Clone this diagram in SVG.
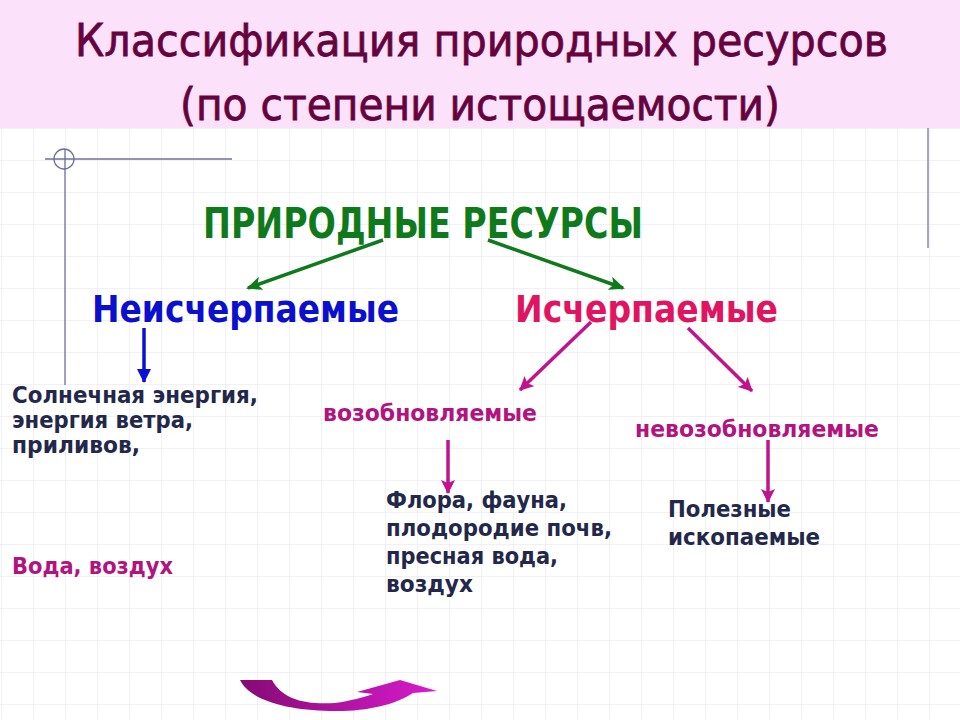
<svg xmlns="http://www.w3.org/2000/svg" width="960" height="720" viewBox="0 0 960 720">
  <defs>
    <pattern id="grid" x="1" y="0" width="32" height="32" patternUnits="userSpaceOnUse">
      <path d="M0 0 H32 M0 0 V32" fill="none" stroke="#e4e4ec" stroke-width="1"/>
    </pattern>
    <linearGradient id="curveGrad" x1="0" y1="0" x2="1" y2="0">
      <stop offset="0" stop-color="#850a74"/>
      <stop offset="1" stop-color="#d81ccc"/>
    </linearGradient>
    <marker id="ahGreen" markerUnits="userSpaceOnUse" markerWidth="16" markerHeight="14" refX="14" refY="7" orient="auto">
      <path d="M0 0 L16 7 L0 14 L4 7 Z" fill="#0f7a1c"/>
    </marker>
    <marker id="ahBlue" markerUnits="userSpaceOnUse" markerWidth="14" markerHeight="14" refX="13" refY="7" orient="auto">
      <path d="M0 0 L14 7 L0 14 Z" fill="#0c10d0"/>
    </marker>
    <marker id="ahPink" markerUnits="userSpaceOnUse" markerWidth="14" markerHeight="14" refX="13" refY="7" orient="auto">
      <path d="M0 0 L14 7 L0 14 L3 7 Z" fill="#c0148e"/>
    </marker>
  </defs>
  <style>
    .title { font-family: "DejaVu Sans", "Liberation Sans", sans-serif; font-size: 44px; fill: #66033e; stroke: #66033e; stroke-width: 0.8; }
    .b { font-family: "DejaVu Sans", "Liberation Sans", sans-serif; font-weight: bold; }
    .root { font-size: 42px; fill: #0f7a1c; }
    .lvl1 { font-size: 37px; }
    .blue { fill: #0c10cc; }
    .red { fill: #e01460; }
    .lvl2 { font-size: 23px; fill: #b2137f; }
    .dark { font-size: 23px; fill: #23284a; }
    .conn { fill: none; stroke-width: 3.5; }
    .deco { fill: none; stroke: #6c7098; stroke-width: 1.3; }
  </style>

  <!-- background -->
  <rect x="0" y="0" width="960" height="720" fill="#ffffff"/>
  <rect x="0" y="128" width="960" height="592" fill="url(#grid)"/>
  <rect x="0" y="0" width="960" height="128" fill="#fbe1fa"/>

  <!-- decorative lines -->
  <g id="decor">
    <line class="deco" x1="45" y1="159" x2="232" y2="159"/>
    <circle class="deco" cx="64" cy="159" r="10"/>
    <line class="deco" x1="65" y1="149" x2="65" y2="385"/>
    <line x1="928" y1="128" x2="928" y2="248" stroke="#8a8aa4" stroke-width="1.5"/>
  </g>

  <!-- title -->
  <g id="title">
    <text class="title" x="75" y="56" textLength="813" lengthAdjust="spacingAndGlyphs">Классификация природных ресурсов</text>
    <text class="title" x="180" y="120" textLength="600" lengthAdjust="spacingAndGlyphs">(по степени истощаемости)</text>
  </g>

  <!-- connectors -->
  <g id="connectors">
    <line class="conn" stroke="#0f7a1c" x1="383" y1="240" x2="248" y2="288" marker-end="url(#ahGreen)"/>
    <line class="conn" stroke="#0f7a1c" x1="488" y1="240" x2="623" y2="288" marker-end="url(#ahGreen)"/>
    <line class="conn" stroke="#0c10d0" stroke-width="3" x1="144" y1="328" x2="144" y2="382" marker-end="url(#ahBlue)"/>
    <line class="conn" stroke="#c0148e" stroke-width="3" x1="591" y1="322" x2="520" y2="390" marker-end="url(#ahPink)"/>
    <line class="conn" stroke="#c0148e" stroke-width="3" x1="688" y1="328" x2="752" y2="391" marker-end="url(#ahPink)"/>
    <line class="conn" stroke="#c0148e" stroke-width="3" x1="448" y1="440" x2="448" y2="493" marker-end="url(#ahPink)"/>
    <line class="conn" stroke="#c0148e" stroke-width="3" x1="768" y1="440" x2="768" y2="502" marker-end="url(#ahPink)"/>
  </g>

  <!-- nodes -->
  <g id="node-root">
    <text class="b root" x="203" y="238" textLength="440" lengthAdjust="spacingAndGlyphs">ПРИРОДНЫЕ РЕСУРСЫ</text>
  </g>
  <g id="node-inexhaustible">
    <text class="b lvl1 blue" x="92" y="322" textLength="307" lengthAdjust="spacingAndGlyphs">Неисчерпаемые</text>
  </g>
  <g id="node-exhaustible">
    <text class="b lvl1 red" x="515" y="322" textLength="263" lengthAdjust="spacingAndGlyphs">Исчерпаемые</text>
  </g>
  <g id="node-renewable">
    <text class="b lvl2" x="323" y="421" textLength="214" lengthAdjust="spacingAndGlyphs">возобновляемые</text>
  </g>
  <g id="node-nonrenewable">
    <text class="b lvl2" x="635" y="437" textLength="244" lengthAdjust="spacingAndGlyphs">невозобновляемые</text>
  </g>
  <g id="node-inexhaustible-list">
    <text class="b dark" x="12" y="403" textLength="246" lengthAdjust="spacingAndGlyphs">Солнечная энергия,</text>
    <text class="b dark" x="12" y="428" textLength="181" lengthAdjust="spacingAndGlyphs">энергия ветра,</text>
    <text class="b dark" x="12" y="453" textLength="128" lengthAdjust="spacingAndGlyphs">приливов,</text>
  </g>
  <g id="node-water-air">
    <text class="b lvl2" x="12" y="574" textLength="161" lengthAdjust="spacingAndGlyphs">Вода, воздух</text>
  </g>
  <g id="node-renewable-list">
    <text class="b dark" x="386" y="508" textLength="181" lengthAdjust="spacingAndGlyphs">Флора, фауна,</text>
    <text class="b dark" x="386" y="536" textLength="226" lengthAdjust="spacingAndGlyphs">плодородие почв,</text>
    <text class="b dark" x="386" y="564" textLength="172" lengthAdjust="spacingAndGlyphs">пресная вода,</text>
    <text class="b dark" x="386" y="592" textLength="87" lengthAdjust="spacingAndGlyphs">воздух</text>
  </g>
  <g id="node-minerals">
    <text class="b dark" x="668" y="517" textLength="123" lengthAdjust="spacingAndGlyphs">Полезные</text>
    <text class="b dark" x="668" y="545" textLength="152" lengthAdjust="spacingAndGlyphs">ископаемые</text>
  </g>

  <!-- curved arrow -->
  <g id="curved-arrow">
    <path d="M240 680 L272 680 C282 699 305 705 335 703 C350 701 364 697 373 694 L357 692 L400 680 L437 691 L413 693 C395 705 365 712 330 711 C285 710 250 700 240 680 Z" fill="url(#curveGrad)"/>
  </g>
</svg>
